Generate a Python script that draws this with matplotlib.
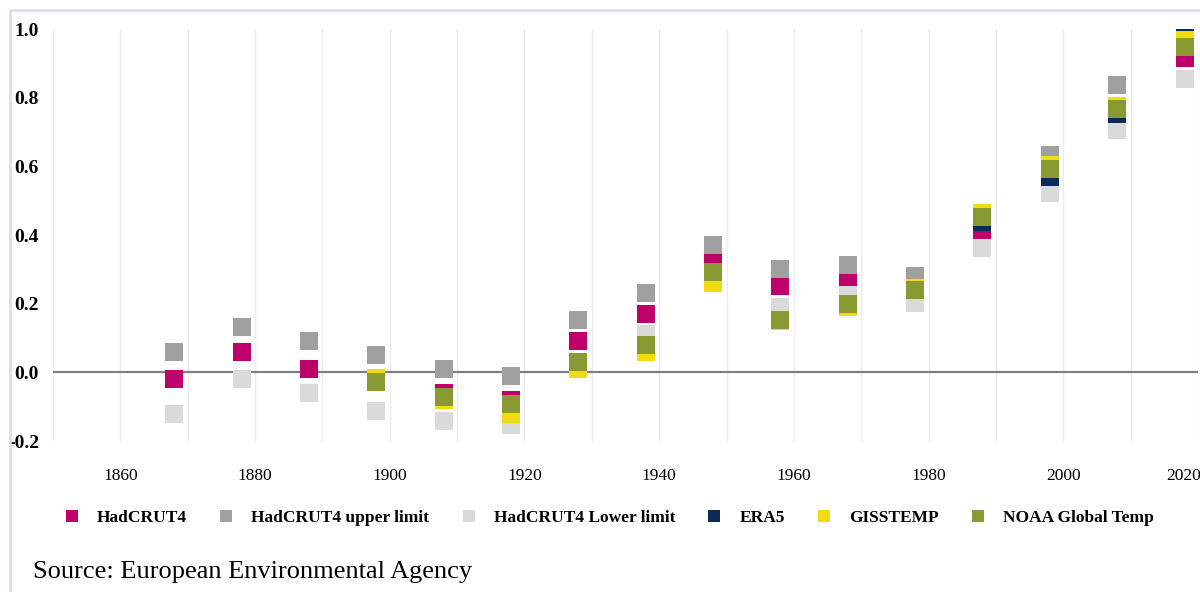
import numpy as np
import matplotlib
matplotlib.use('Agg')
import matplotlib.pyplot as plt
import matplotlib.transforms as mtransforms
from matplotlib.lines import Line2D

nan = np.nan

# Data (decadal temperature anomalies, deg C)
decades = [1868, 1878, 1888, 1898, 1908, 1918, 1928, 1938, 1948, 1958, 1968, 1978, 1988, 1998, 2008, 2018]
hadcrut4 = [-0.020, 0.060, 0.010, -0.028, -0.061, -0.081, 0.090, 0.171, 0.331, 0.252, 0.265, 0.240, 0.400, 0.580, 0.750, 0.915]
had_upper = [0.060, 0.131, 0.090, 0.050, 0.010, -0.011, 0.151, 0.230, 0.371, 0.301, 0.312, 0.282, 0.455, 0.633, 0.836, 0.970]
had_lower = [-0.121, -0.020, -0.061, -0.112, -0.142, -0.152, 0.020, 0.111, 0.290, 0.191, 0.224, 0.201, 0.363, 0.522, 0.705, 0.855]
era5 = [nan, nan, nan, nan, nan, nan, nan, nan, nan, nan, nan, nan, 0.439, 0.569, 0.752, 0.978]
gisstemp = [nan, nan, nan, -0.017, -0.081, -0.122, 0.009, 0.058, 0.261, 0.150, 0.190, 0.245, 0.464, 0.604, 0.776, 0.967]
noaa = [nan, nan, nan, -0.028, -0.072, -0.092, 0.030, 0.080, 0.291, 0.151, 0.199, 0.240, 0.453, 0.593, 0.766, 0.947]

series = [
    ('HadCRUT4', hadcrut4, '#C0006A'),
    ('HadCRUT4 upper limit', had_upper, '#A0A0A0'),
    ('HadCRUT4 Lower limit', had_lower, '#DADADA'),
    ('ERA5', era5, '#0B2A58'),
    ('GISSTEMP', gisstemp, '#F0DC10'),
    ('NOAA Global Temp', noaa, '#8A9A33'),
]

plt.rcParams['font.family'] = ['Liberation Serif', 'DejaVu Serif']

fig = plt.figure(figsize=(12, 5.92), dpi=100)
ax = fig.add_axes([53 / 1200, 1 - 441 / 592, 1145 / 1200, 412 / 592])

# light vertical grid every decade
for yr in range(1850, 2021, 10):
    ax.axvline(yr, color='#EDEDED', lw=1, zorder=0)
ax.axhline(0, color='#808080', lw=1.6, zorder=1)

for name, vals, col in series:
    ax.plot(decades, vals, linestyle='none', marker='s', markersize=12.3,
            markeredgewidth=0, color=col, label=name, zorder=3)

ax.set_xlim(1850, 2020)
ax.set_ylim(-0.2, 1.0)
ax.set_xticks(range(1860, 2021, 20))
ax.set_yticks(np.arange(-0.2, 1.01, 0.2))
ax.set_yticklabels(['%.1f' % v for v in np.arange(-0.2, 1.01, 0.2)], fontweight='bold')
ax.tick_params(axis='x', length=0, pad=19.5, labelsize=12.5)
ax.tick_params(axis='y', length=0, pad=10, labelsize=14)
for s in ax.spines.values():
    s.set_visible(False)

# last x label sits a little left, as in the original
last = ax.get_xticklabels()[-1]
last.set_transform(last.get_transform() + mtransforms.ScaledTranslation(-10 / 72, 0, fig.dpi_scale_trans))

# legend
handles = [Line2D([], [], linestyle='none', marker='s', markersize=8.6,
                  markeredgewidth=0, color=c) for _, _, c in series]
fig.legend(handles, [n for n, _, _ in series], loc='center left',
           bbox_to_anchor=(56 / 1200, 1 - 518 / 592), ncol=6, frameon=False,
           prop={'weight': 'bold', 'size': 12.5}, handlelength=1.0,
           handletextpad=0.95, columnspacing=1.76, borderaxespad=0)

fig.text(33 / 1200, 1 - 572 / 592, 'Source: European Environmental Agency',
         fontsize=19, va='center', ha='left')

# outer frame (top and left visible)
fig.add_artist(Line2D([10 / 1200, 10 / 1200], [0, 1 - 10 / 592], color='#D5DCEA', lw=1.8))
fig.add_artist(Line2D([10 / 1200, 1], [1 - 10 / 592, 1 - 10 / 592], color='#D5DCEA', lw=1.8))

fig.savefig('out.png', dpi=100)
